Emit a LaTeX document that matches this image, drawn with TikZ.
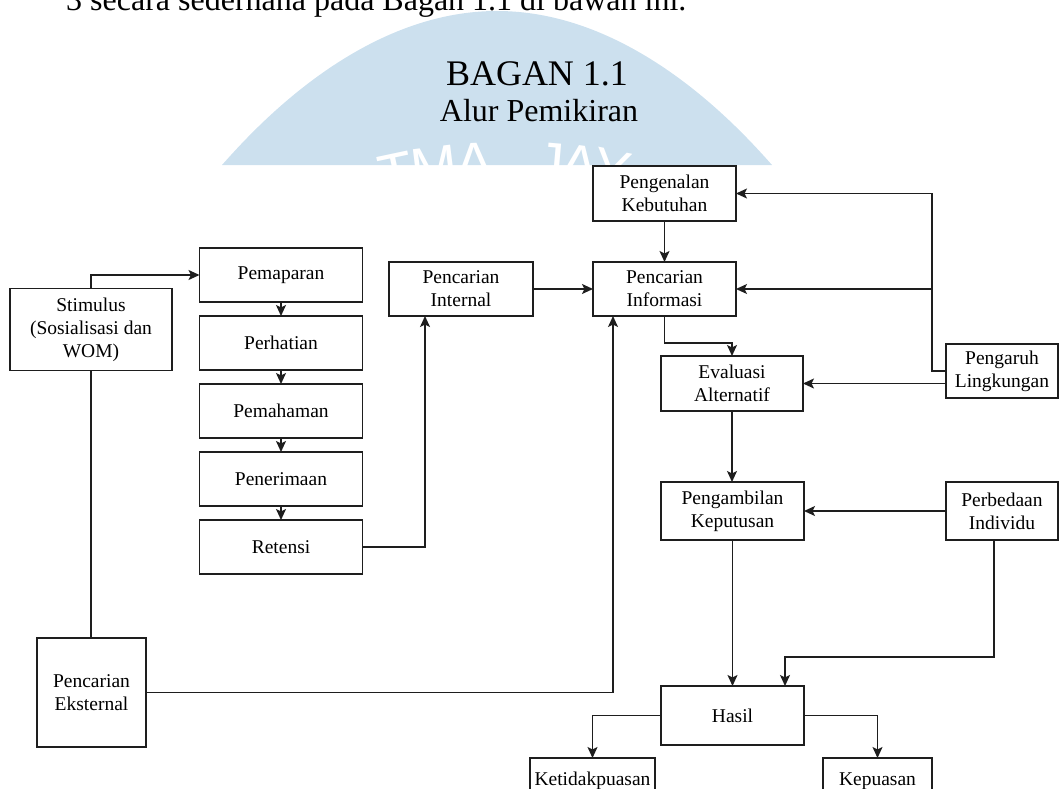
\documentclass[tikz,border=0pt]{standalone}
\usepackage{fontspec}
\setmainfont{Liberation Serif}
\newfontfamily\wmfont{Liberation Sans}
\usetikzlibrary{positioning,chains,arrows.meta}
\definecolor{wmblue}{RGB}{204,224,238}
\definecolor{garis}{RGB}{30,30,30}

\begin{document}
\begin{tikzpicture}[
	x=1pt, y=-1pt,
	node distance=14pt,
	kotak/.style = {
		draw=garis, rectangle, align=center, line width=1.5pt,
		font=\fontsize{19.5}{23}\selectfont, inner sep=2pt, outer sep=0pt,
		text=black},
	judul/.style = {inner sep=0pt, anchor=base},
	every join/.style = arrow,
	arrow/.style = {draw=garis, line width=1.5pt,
		-{Stealth[length=11pt,width=10pt,inset=2.5pt]}},
	line/.style = {draw=garis, line width=1.5pt}
]
\useasboundingbox (0,0) rectangle (1060,789);
\clip (0,0) rectangle (1060,789);

% watermark behind the title
\begin{scope}
	\clip (0,0) rectangle (1060,165);
	\fill[wmblue] (222,165) parabola bend (497,11) (772,165) -- cycle;
	\foreach \huruf/\xx/\yy/\rot in {T/392/154/12, M/432/147/7, A/474/143/2,
			J/552/143/-5, A/582/146/-8, Y/616/151/-12}
		\node[text=white, font=\wmfont\fontsize{56}{56}\selectfont,
			rotate=\rot, anchor=north, inner sep=0pt] at (\xx,\yy) {\huruf};
\end{scope}

\node (kalimat) [anchor=base west, inner sep=0pt,
	font=\fontsize{32}{36}\selectfont] at (66,11)
	{3 secara sederhana pada Bagan 1.1 di bawah ini.};
\node (bagan) [judul, font=\fontsize{36}{40}\selectfont] at (537,86) {BAGAN 1.1};
\node (alur)  [judul, font=\fontsize{32}{36}\selectfont] at (539,122) {Alur Pemikiran};

\node (stim) [kotak, minimum width=162pt, minimum height=82pt] at (91,329.5)
	{Stimulus\\(Sosialisasi dan\\WOM)};
\node (eksternal) [kotak, minimum width=109pt, minimum height=109pt] at (91.5,692.5)
	{Pencarian\\Eksternal};

\begin{scope}[start chain=going below]
	\node (papar)   [kotak, on chain, minimum width=163pt, minimum height=54pt]
		at (281,275) {Pemaparan};
	\node (hati)    [kotak, on chain, join, minimum width=163pt, minimum height=54pt] {Perhatian};
	\node (paham)   [kotak, on chain, join, minimum width=163pt, minimum height=54pt] {Pemahaman};
	\node (terima)  [kotak, on chain, join, minimum width=163pt, minimum height=54pt] {Penerimaan};
	\node (retensi) [kotak, on chain, join, minimum width=163pt, minimum height=54pt] {Retensi};
\end{scope}

\node (internal) [kotak, minimum width=144pt, minimum height=54pt] at (461,289)
	{Pencarian\\Internal};
\node (kenal) [kotak, minimum width=143pt, minimum height=55pt] at (664.5,193.5)
	{Pengenalan\\Kebutuhan};
\node (info)  [kotak, minimum width=143pt, minimum height=54pt, below=41pt of kenal]
	{Pencarian\\Informasi};
\node (eval)  [kotak, minimum width=142pt, minimum height=55pt] at (732,383.5)
	{Evaluasi\\Alternatif};
\node (ambil) [kotak, minimum width=143pt, minimum height=58pt] at (732.5,511)
	{Pengambilan\\Keputusan};
\node (hasil) [kotak, minimum width=143pt, minimum height=59pt] at (732.5,715.5)
	{Hasil};
\node (lingk) [kotak, minimum width=112pt, minimum height=54pt] at (1002,371)
	{Pengaruh\\Lingkungan};
\node (beda)  [kotak, minimum width=112pt, minimum height=58pt] at (1002,511)
	{Perbedaan\\Individu};
\node (tidak) [kotak, minimum width=125pt, minimum height=46pt, anchor=north]
	at (592.5,758) {Ketidakpuasan};
\node (puas)  [kotak, minimum width=109pt, minimum height=46pt, anchor=north]
	at (877.5,758) {Kepuasan};

\draw[arrow] (stim.north) |- (papar.west);
\draw[line]  (stim.south) -- (stim.south |- eksternal.north);
\draw[arrow] (retensi.east) -| ([xshift=-36pt]internal.south);
\draw[arrow] (internal.east) -- (info.west);
\draw[arrow] (kenal) -- (info);
\draw[arrow] (eksternal.east) -| ([xshift=-51.5pt]info.south);
\draw[arrow] (info.south) -- ++(0,27) -| (eval.north);
\draw[arrow] (eval.south) -- (eval.south |- ambil.north);
\draw[arrow] (ambil.south) -- (ambil.south |- hasil.north);
\draw[arrow] (beda.west) -- (ambil.east);
\draw[arrow] ([xshift=-8pt]beda.south) -- ++(0,117) -| ([xshift=52.5pt]hasil.north);
\draw[arrow] (hasil.west) -| (tidak.north);
\draw[arrow] (hasil.east) -| (puas.north);

\draw[arrow] (lingk.west |- eval.east) -- (eval.east);
\draw[arrow] (lingk.west) -- ++(-14,0) coordinate (lk) |- (kenal.east);
\draw[arrow] (lk |- info.east) -- (info.east);
\end{tikzpicture}
\end{document}
